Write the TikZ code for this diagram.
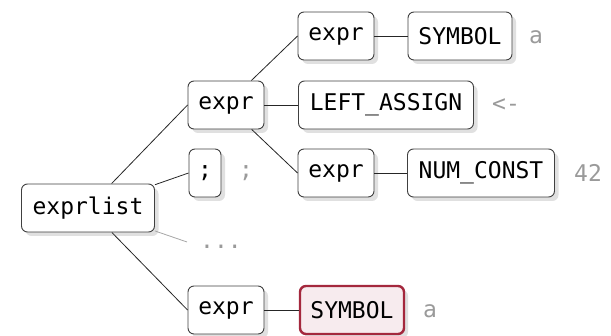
\documentclass[tikz,border=0pt]{standalone}
\usepackage{fontspec}
\setmonofont{DejaVu Sans Mono}
\usetikzlibrary{shadows}
\definecolor{hlred}{HTML}{A4283D}
\definecolor{hlfill}{HTML}{F7EBEE}
\definecolor{anno}{HTML}{9A9A9A}
\tikzset{
  box/.style={draw=black!75, line width=0.9pt, rounded corners=6pt, fill=white,
    minimum height=48pt, inner xsep=0pt, inner ysep=0pt,
    font=\ttfamily\fontsize{23}{27}\selectfont,
    drop shadow={shadow xshift=4pt, shadow yshift=-4pt, opacity=0.12, fill=black}},
  hlbox/.style={box, draw=hlred, line width=2.4pt, fill=hlfill},
  ann/.style={text=anno, font=\ttfamily\fontsize{23}{27}\selectfont, inner sep=0pt},
  edge/.style={draw=black!85, line width=0.8pt},
  fedge/.style={draw=black!35, line width=0.8pt}
}
\begin{document}
\begin{tikzpicture}[x=1pt,y=1pt]
\useasboundingbox (0,0) rectangle (611,335);
% nodes (y = 335 - pixel y)
\node[box, minimum width=133pt] (el) at (88,127) {exprlist};
\node[box, minimum width=76pt] (e1) at (226,230) {expr};
\node[box, minimum width=32pt] (semi) at (205,162) {;};
\node[ann] (dots) at (221,88) {...};
\coordinate (dotsend) at ([xshift=-13pt,yshift=5pt]dots.west);
\node[box, minimum width=76pt] (e2) at (226,25) {expr};
\node[box, minimum width=76pt] (e11) at (336,299) {expr};
\node[box, minimum width=104pt] (sym1) at (460,299) {SYMBOL};
\node[box, minimum width=175pt] (la) at (386,230) {LEFT\_ASSIGN};
\node[box, minimum width=76pt] (e12) at (336,162) {expr};
\node[box, minimum width=147pt] (num) at (481,162) {NUM\_CONST};
\node[hlbox, minimum width=104pt] (sym2) at (352,25) {SYMBOL};
% annotations
\node[ann] (a1) at (536,298) {a};
\node[ann] (a2) at (506,230) {<-};
\node[ann] (a3) at (246,162) {;};
\node[ann] (a4) at (588,162) {42};
\node[ann] (a5) at (430,24) {a};
% connectors
\draw[edge] (el) -- (e1.west);
\draw[edge] (el) -- (semi.west);
\draw[fedge] (el) -- (dotsend);
\draw[edge] (el) -- (e2.west);
\draw[edge] (e1) -- (e11.west);
\draw[edge] (e1) -- (la.west);
\draw[edge] (e1) -- (e12.west);
\draw[edge] (e11) -- (sym1.west);
\draw[edge] (e12) -- (num.west);
\draw[edge] (e2) -- (sym2.west);
\end{tikzpicture}
\end{document}
